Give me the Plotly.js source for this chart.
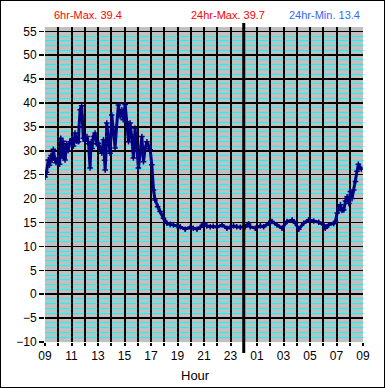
<!DOCTYPE html>
<html>
<head>
<meta charset="utf-8">
<script src="https://cdn.plot.ly/plotly-3.0.1.min.js"></script>
<style>
html,body{margin:0;padding:0;background:#fff;}
#wrap{position:relative;width:385px;height:388px;}
#chart{width:385px;height:388px;}
#frame{position:absolute;left:0;top:0;width:385px;height:388px;box-sizing:border-box;border:1px solid #000;pointer-events:none;}
</style>
</head>
<body>
<div id="wrap"><div id="chart"></div><div id="frame"></div></div>
<script>
// Hours after 09:00 (0 = 09:00, 24 = 09:00 next day)
const hours = [
0.00,0.11,0.25,0.34,0.45,0.53,0.63,0.72,0.83,0.98,1.10,1.19,1.28,1.36,1.44,1.51,1.63,1.74,1.89,2.04,
2.15,2.27,2.38,2.52,2.57,2.65,2.77,2.83,2.89,3.02,3.17,3.29,3.40,3.48,3.55,3.65,3.78,3.89,4.03,4.16,
4.29,4.41,4.50,4.54,4.61,4.66,4.76,4.91,5.04,5.14,5.29,5.40,5.54,5.67,5.80,5.90,6.05,6.17,6.30,6.42,
6.54,6.67,6.80,6.92,7.05,7.18,7.31,7.43,7.56,7.69,7.82,7.94,8.06,8.19,8.31,8.50,8.69,8.94,9.20,9.45,
9.70,9.98,10.20,10.58,10.96,11.19,11.47,11.72,11.96,12.21,12.47,12.70,12.98,13.36,13.73,13.98,14.23,14.47,14.74,15.12,
15.37,15.49,15.87,16.25,16.50,16.88,17.13,17.51,17.89,18.27,18.65,18.90,19.15,19.52,19.90,20.28,20.66,21.04,21.16,21.41,
21.79,21.92,22.05,22.18,22.30,22.41,22.55,22.68,22.80,22.93,23.05,23.17,23.30,23.43,23.55,23.65,23.76,23.87
];
const temps = [
24.5,25.5,28.1,27.0,29.0,28.0,30.3,28.5,27.5,28.4,27.2,32.6,29.0,32.0,28.5,28.1,31.5,30.0,31.9,32.5,
31.0,33.7,32.0,31.9,35.0,38.6,39.4,37.0,32.6,32.0,33.0,31.5,26.4,31.9,30.5,33.0,33.7,31.5,31.6,30.5,
29.5,32.3,28.0,26.0,30.0,35.8,33.0,29.5,37.5,34.0,30.6,35.0,39.6,37.2,38.6,36.5,39.7,36.1,31.9,35.8,
33.0,28.5,34.7,31.0,26.4,29.5,33.0,27.7,30.5,31.9,31.0,30.2,27.1,21.8,19.7,18.3,17.3,15.9,14.85,14.6,
14.5,14.3,14.1,13.6,14.0,13.8,13.6,14.0,14.7,14.3,14.1,14.2,14.0,14.5,13.8,14.0,14.3,14.1,14.0,14.1,
14.7,14.1,13.8,14.3,14.1,14.85,15.2,14.5,13.8,15.2,15.55,14.85,13.6,14.85,15.55,15.3,15.05,14.5,13.8,14.5,
14.8,15.2,17.0,18.0,18.7,17.5,17.6,19.5,20.4,19.0,21.5,20.0,21.8,23.6,25.7,27.2,26.5,26.2
];
const xTickVals = [0,1,2,3,4,5,6,7,8,9,10,11,12,13,14,15,16,17,18,19,20,21,22,23,24];
const xTickText = ['09','','11','','13','','15','','17','','19','','21','','23','','01','','03','','05','','07','','09'];
const yTickVals = [-10,-5,0,5,10,15,20,25,30,35,40,45,50,55];
const headerTexts = ['6hr-Max. 39.4','24hr-Max. 39.7','24hr-Min. 13.4'];
const midnight = 15;

const W = 385, H = 388, mL = 45, mR = 22, mT = 27, mB = 46;
const pw = W - mL - mR, ph = H - mT - mB;
const px = v => (v - mL) / pw;
const py = v => (H - mB - v) / ph;

const trace = {
  x: hours, y: temps, type: 'scatter', mode: 'lines+markers',
  line: {color: '#000080', width: 3},
  marker: {symbol: 'cross-thin', size: 4, color: '#000080', line: {color: '#000080', width: 1.5}},
  hoverinfo: 'skip', showlegend: false
};

const layout = {
  width: W, height: H,
  margin: {l: mL, r: mR, t: mT, b: mB, pad: 0},
  paper_bgcolor: '#ffffff',
  plot_bgcolor: '#c0c0c0',
  font: {family: 'Liberation Sans, Arial, sans-serif', size: 12, color: '#000'},
  xaxis: {
    range: [0, 24], tickmode: 'array', tickvals: xTickVals, ticktext: xTickText,
    showgrid: true, gridcolor: '#000', gridwidth: 2,
    ticks: 'outside', ticklen: 3, tickcolor: '#000', tickwidth: 2,
    zeroline: false, showline: false, automargin: false,
    tickfont: {size: 12, color: '#000'}
  },
  yaxis: {
    range: [-10, 55.9], tickmode: 'array', tickvals: yTickVals,
    showgrid: true, gridcolor: '#000', gridwidth: 1.5,
    ticks: 'outside', ticklen: 5, tickcolor: '#000', tickwidth: 1.5,
    zeroline: false, showline: false, automargin: false,
    tickfont: {size: 12, color: '#000'},
    minor: {tickmode: 'linear', tick0: 0, dtick: 1, showgrid: true, gridcolor: '#00ffff', gridwidth: 1, ticks: ''}
  },
  shapes: [
    {type: 'line', xref: 'x', yref: 'paper', x0: midnight, x1: midnight, y0: py(353), y1: py(23),
     line: {color: '#000', width: 3}}
  ],
  annotations: [
    {text: headerTexts[0], xref: 'paper', yref: 'paper', x: px(88), y: py(15), showarrow: false,
     xanchor: 'center', yanchor: 'middle', font: {size: 11, color: '#ff0000'}},
    {text: headerTexts[1], xref: 'paper', yref: 'paper', x: px(228), y: py(15), showarrow: false,
     xanchor: 'center', yanchor: 'middle', font: {size: 11, color: '#ff0000'}},
    {text: headerTexts[2], xref: 'paper', yref: 'paper', x: px(324), y: py(15), showarrow: false,
     xanchor: 'center', yanchor: 'middle', font: {size: 11, color: '#3366ff'}},
    {text: 'Hour', xref: 'paper', yref: 'paper', x: px(195), y: py(375), showarrow: false,
     xanchor: 'center', yanchor: 'middle', font: {size: 13, color: '#000'}}
  ]
};

Plotly.newPlot('chart', [trace], layout, {staticPlot: true, displayModeBar: false});
</script>
</body>
</html>
